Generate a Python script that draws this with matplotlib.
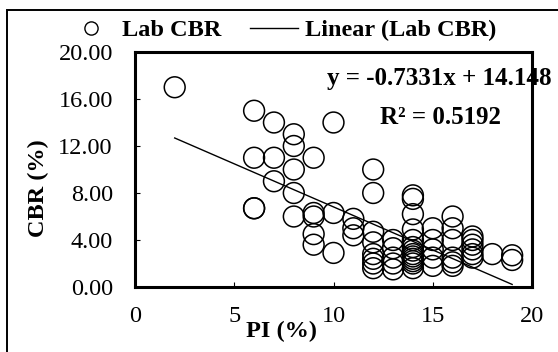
import numpy as np
import matplotlib
matplotlib.use("Agg")
import matplotlib.pyplot as plt
from matplotlib.lines import Line2D
from matplotlib.patches import Rectangle

plt.rcParams['font.family'] = ['Liberation Serif', 'DejaVu Serif']

# ---- data ----
pi_values = [2,
             6, 6, 6, 6,
             7, 7, 7,
             8, 8, 8, 8, 8,
             9, 9, 9, 9, 9,
             10, 10, 10,
             11, 11, 11,
             12, 12, 12, 12, 12, 12, 12, 12,
             13, 13, 13, 13, 13,
             14, 14, 14, 14, 14, 14, 14, 14, 14, 14, 14, 14, 14,
             15, 15, 15, 15, 15,
             16, 16, 16, 16, 16, 16,
             17, 17, 17, 17, 17, 17,
             18,
             19, 19]
cbr_values = [17.0,
              15.0, 11.0, 6.7, 6.7,
              14.0, 11.0, 9.0,
              13.0, 12.0, 10.0, 8.0, 6.0,
              11.0, 6.3, 6.0, 4.5, 3.6,
              14.0, 6.3, 2.9,
              5.8, 5.0, 4.4,
              10.0, 8.0, 4.7, 3.8, 2.8, 2.4, 2.0, 1.6,
              4.0, 3.3, 2.5, 2.0, 1.5,
              7.8, 7.5, 6.2, 4.9, 4.0, 3.4, 3.1, 2.8, 2.6, 2.4, 2.2, 2.0, 1.6,
              5.0, 4.0, 3.2, 2.5, 1.8,
              6.0, 5.0, 4.0, 2.5, 2.1, 1.8,
              4.3, 4.0, 3.6, 3.2, 2.8, 2.5,
              2.8,
              2.7, 2.3]
slope = -0.7331
intercept = 14.148
r_squared = 0.5192
x_ticks = [0, 5, 10, 15, 20]
y_ticks = [0, 4, 8, 12, 16, 20]
series_label = "Lab CBR"
trend_label = "Linear (Lab CBR)"
x_label = "PI (%)"
y_label = "CBR (%)"

FS = 17.5

W, H = 558, 352
fig = plt.figure(figsize=(W / 100, H / 100), dpi=100)
ax = fig.add_axes([135 / W, 1 - 287 / H, (532 - 135) / W, (287 - 52) / H])

ax.scatter(pi_values, cbr_values, s=15.0 ** 2, facecolors='none',
           edgecolors='black', linewidths=1.1, zorder=3)
xs = np.array([min(pi_values), max(pi_values)], dtype=float)
ax.plot(xs, slope * xs + intercept, color='black', lw=1.0, zorder=2)

ax.set_xlim(x_ticks[0], x_ticks[-1])
ax.set_ylim(y_ticks[0], y_ticks[-1])
ax.set_xticks(x_ticks)
ax.set_yticks(y_ticks)
ax.set_xticklabels([str(t) for t in x_ticks])
ax.set_yticklabels([f"{t:.2f}" for t in y_ticks])
ax.tick_params(axis='both', direction='in', length=3.6, width=0.8,
               labelsize=FS, colors='black')
ax.tick_params(axis='y', pad=16)
ax.tick_params(axis='x', pad=14)
for sp in ax.spines.values():
    sp.set_linewidth(2.2)
    sp.set_color('black')

# axis titles
fig.text(281 / W, 1 - 331 / H, x_label, ha='center', va='center',
         fontsize=FS, fontweight='bold')
fig.text(38 / W, 1 - 188 / H, y_label, ha='center', va='center',
         rotation=90, fontsize=FS, fontweight='bold')

# trendline equation
fig.text(327 / W, 1 - 79 / H, f"y = {slope}x + {intercept}", ha='left',
         va='center', fontsize=18, fontweight='bold')
fig.text(380 / W, 1 - 118 / H, f"R\u00b2 = {r_squared}", ha='left',
         va='center', fontsize=18, fontweight='bold')

# legend
handles = [Line2D([], [], marker='o', ls='none', markersize=9.5,
                  markerfacecolor='none', markeredgecolor='black',
                  markeredgewidth=1.0),
           Line2D([], [], color='black', lw=1.0)]
fig.legend(handles, [series_label, trend_label], loc='center left',
           bbox_to_anchor=(67 / W, 1 - 30 / H), ncol=2, frameon=False,
           borderpad=0, borderaxespad=0, handlelength=2.0,
           handletextpad=0.28, columnspacing=1.15,
           prop={'size': FS, 'weight': 'bold'})

# outer chart border (extends past the right and bottom edges)
fig.patches.append(Rectangle((7 / W, -0.2), 2.0, 1.2 - 10 / H,
                             transform=fig.transFigure, fill=False,
                             lw=1.4, edgecolor='black'))

fig.savefig("out.png", dpi=100)
